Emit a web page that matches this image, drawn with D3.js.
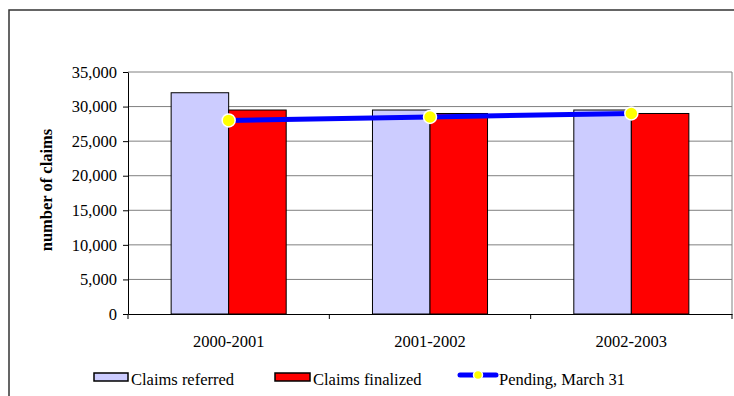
<!DOCTYPE html>
<html>
<head>
<meta charset="utf-8">
<script src="https://cdn.jsdelivr.net/npm/d3@7"></script>
<style>
  html, body { margin: 0; padding: 0; background: #fff; }
  svg { display: block; }
  text { font-family: "Liberation Serif", "Times New Roman", serif; fill: #000; }
</style>
</head>
<body>
<svg id="chart" width="734" height="396"></svg>
<script>
const categories = ["2000-2001", "2001-2002", "2002-2003"];
const claimsReferred = [32000, 29500, 29500];
const claimsFinalized = [29500, 29000, 29000];
const pendingMarch31 = [28000, 28500, 29000];
const yTicks = [0, 5000, 10000, 15000, 20000, 25000, 30000, 35000];
const seriesNames = ["Claims referred", "Claims finalized", "Pending, March 31"];
const yTitle = "number of claims";

(function () {
const svg = d3.select("#chart");
const fontSize = 16.5;

// outer frame
svg.append("rect")
  .attr("x", 9).attr("y", 10)
  .attr("width", 760).attr("height", 420)
  .attr("fill", "none").attr("stroke", "#333").attr("stroke-width", 1.5);

const pLeft = 128, pRight = 732, pTop = 72, pBottom = 314;

const x = d3.scaleBand().domain(categories).range([pLeft, pRight]).padding(0);
const inner = d3.scaleBand().domain(["ref", "fin"]).range([0, x.bandwidth()]).paddingInner(0).paddingOuter(0.75);
const y = d3.scaleLinear().domain([0, 35000]).range([pBottom, pTop]);

// gridlines
svg.append("g").selectAll("line")
  .data(yTicks.filter(d => d > 0))
  .join("line")
  .attr("x1", pLeft).attr("x2", pRight)
  .attr("y1", d => y(d)).attr("y2", d => y(d))
  .attr("stroke", "#808080").attr("stroke-width", 1);
// plot right border
svg.append("line")
  .attr("x1", pRight).attr("x2", pRight).attr("y1", pTop).attr("y2", pBottom)
  .attr("stroke", "#808080").attr("stroke-width", 1);

// bars
const g = svg.append("g");
g.selectAll("rect.ref")
  .data(categories)
  .join("rect").attr("class", "ref")
  .attr("x", d => x(d) + inner("ref"))
  .attr("width", inner.bandwidth())
  .attr("y", (d, i) => y(claimsReferred[i]))
  .attr("height", (d, i) => y(0) - y(claimsReferred[i]))
  .attr("fill", "#ccccff").attr("stroke", "#000").attr("stroke-width", 1);
g.selectAll("rect.fin")
  .data(categories)
  .join("rect").attr("class", "fin")
  .attr("x", d => x(d) + inner("fin"))
  .attr("width", inner.bandwidth())
  .attr("y", (d, i) => y(claimsFinalized[i]))
  .attr("height", (d, i) => y(0) - y(claimsFinalized[i]))
  .attr("fill", "#ff0000").attr("stroke", "#000").attr("stroke-width", 1);

// axes
const yAxis = svg.append("g")
  .attr("transform", `translate(${pLeft},0)`)
  .call(d3.axisLeft(y).tickValues(yTicks).tickFormat(d3.format(",")).tickSize(5).tickPadding(6).tickSizeOuter(0));
yAxis.selectAll("text").style("font-size", fontSize + "px").style("font-family", '"Liberation Serif", serif');
yAxis.selectAll("line, path").attr("stroke", "#000");

const xAxis = svg.append("g")
  .attr("transform", `translate(0,${pBottom})`)
  .call(d3.axisBottom(x).tickSize(0).tickPadding(21).tickSizeOuter(0));
xAxis.selectAll("text").style("font-size", fontSize + "px").style("font-family", '"Liberation Serif", serif');
xAxis.select("path").attr("stroke", "#000");
// boundary tick marks between categories
svg.append("g").selectAll("line")
  .data(categories.map((c) => x(c)).concat([pRight]))
  .join("line")
  .attr("x1", d => d).attr("x2", d => d)
  .attr("y1", pBottom).attr("y2", pBottom + 5)
  .attr("stroke", "#000");

// y title
svg.append("text")
  .attr("transform", `translate(52,190) rotate(-90)`)
  .attr("text-anchor", "middle")
  .style("font-size", fontSize + "px")
  .style("font-weight", "bold")
  .text(yTitle);

// pending line
const cx = d => x(d) + x.bandwidth() / 2;
const line = d3.line().x((d, i) => cx(categories[i])).y(d => y(d));
svg.append("path")
  .datum(pendingMarch31)
  .attr("d", line)
  .attr("fill", "none").attr("stroke", "#0000ff").attr("stroke-width", 5);
svg.append("g").selectAll("circle")
  .data(pendingMarch31)
  .join("circle")
  .attr("cx", (d, i) => cx(categories[i]))
  .attr("cy", d => y(d))
  .attr("r", 6.5)
  .attr("fill", "#ffff00").attr("stroke", "#fff").attr("stroke-width", 1.5);

// legend
const leg = svg.append("g");
const legY = 385;
leg.append("rect").attr("x", 94).attr("y", 373).attr("width", 34).attr("height", 8)
  .attr("fill", "#ccccff").attr("stroke", "#000").attr("stroke-width", 1.5);
leg.append("text").attr("x", 131).attr("y", legY).style("font-size", fontSize + "px").text(seriesNames[0]);
leg.append("rect").attr("x", 275).attr("y", 373).attr("width", 35).attr("height", 8)
  .attr("fill", "#ff0000").attr("stroke", "#000").attr("stroke-width", 1.5);
leg.append("text").attr("x", 313).attr("y", legY).style("font-size", fontSize + "px").text(seriesNames[1]);
leg.append("line").attr("x1", 460).attr("x2", 496).attr("y1", 375).attr("y2", 375)
  .attr("stroke", "#0000ff").attr("stroke-width", 5).attr("stroke-linecap", "round");
leg.append("circle").attr("cx", 478).attr("cy", 375).attr("r", 4.5)
  .attr("fill", "#ffff00").attr("stroke", "#fff").attr("stroke-width", 1.5);
leg.append("text").attr("x", 499).attr("y", legY).style("font-size", fontSize + "px").text(seriesNames[2]);
})();
</script>
</body>
</html>
